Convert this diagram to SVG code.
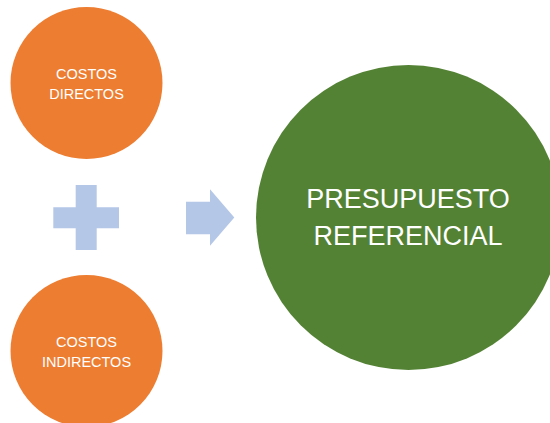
<svg xmlns="http://www.w3.org/2000/svg" width="550" height="423" viewBox="0 0 550 423">
<style>
.orange{fill:#ED7D31}
.green{fill:#548235}
.sym{fill:#B4C7E7}
.t{font-family:"Liberation Sans",Arial,sans-serif;fill:#FFFFFF;text-anchor:middle}
.s{font-size:14.5px}
.b{font-size:27px}
</style>
<rect width="550" height="423" fill="#FFFFFF"/>
<g id="costos-directos">
<circle class="orange" cx="86.5" cy="83" r="76"/>
<text class="t s" x="86.5" y="79">COSTOS</text>
<text class="t s" x="86.5" y="99">DIRECTOS</text>
</g>
<g id="costos-indirectos">
<circle class="orange" cx="86.5" cy="351" r="76"/>
<text class="t s" x="86.5" y="347">COSTOS</text>
<text class="t s" x="86.5" y="367">INDIRECTOS</text>
</g>
<g id="plus">
<polygon class="sym" points="75.7,185 96.7,185 96.7,207.3 119,207.3 119,228.3 96.7,228.3 96.7,250 75.7,250 75.7,228.3 53.3,228.3 53.3,207.3 75.7,207.3"/>
</g>
<g id="connectors">
<polygon class="sym" points="186,201.7 210,201.7 210,189.3 234.3,217.5 210,245.7 210,234.3 186,234.3"/>
</g>
<g id="presupuesto-referencial">
<circle class="green" cx="408.5" cy="217.5" r="152.5"/>
<text class="t b" x="408" y="208">PRESUPUESTO</text>
<text class="t b" x="408" y="245">REFERENCIAL</text>
</g>
</svg>
